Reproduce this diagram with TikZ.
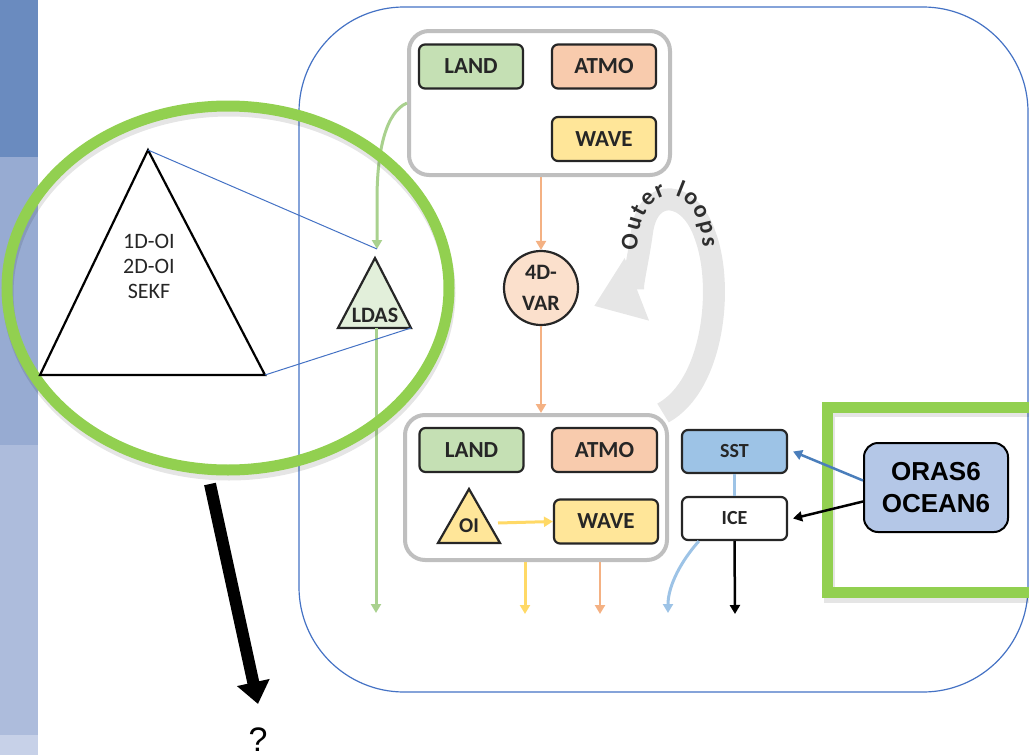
\documentclass[tikz,border=0pt]{standalone}
\usepackage{fontspec}
\setmainfont{Carlito}
\newfontfamily\arialf{Liberation Sans}
\usetikzlibrary{arrows.meta,shapes.geometric}
\definecolor{stripa}{HTML}{6A8BBF}
\definecolor{stripb}{HTML}{97ABD2}
\definecolor{stripc}{HTML}{ADBCDC}
\definecolor{stripd}{HTML}{C7D1E8}
\definecolor{frameblue}{HTML}{4472C4}
\definecolor{hlgreen}{HTML}{92D050}
\definecolor{landc}{HTML}{C5E0B4}
\definecolor{atmoc}{HTML}{F8CBAD}
\definecolor{wavec}{HTML}{FFE699}
\definecolor{sstc}{HTML}{9DC3E6}
\definecolor{varc}{HTML}{FBE0CC}
\definecolor{orasc}{HTML}{B4C7E7}
\definecolor{ldasc}{HTML}{E2EFDA}
\definecolor{darkc}{HTML}{262626}
\definecolor{grayline}{HTML}{BFBFBF}
\definecolor{loopgray}{HTML}{E6E6E6}
\definecolor{looptext}{HTML}{2E2E2E}
\definecolor{orangearr}{HTML}{F4B183}
\definecolor{yellowarr}{HTML}{FFD966}
\definecolor{greenarr}{HTML}{A9D18E}
\definecolor{lbluearr}{HTML}{9DC3E6}
\definecolor{steelarr}{HTML}{4A7EBB}
\begin{document}
\begin{tikzpicture}[x=1pt,y=-1pt,
  gbox/.style={draw=grayline, line width=4pt, rounded corners=20pt, fill=white, inner sep=0pt},
  cbox/.style={draw=darkc, line width=2.2pt, rounded corners=6pt, minimum width=104pt, minimum height=44pt, inner sep=0pt, text=darkc, font=\bfseries\fontsize{23}{23}\selectfont},
  tip/.style={-{Triangle[width=10pt,length=9pt]}},
  oarrow/.style={tip, draw=orangearr, line width=2.5pt},
  yarrow/.style={tip, draw=yellowarr, line width=3pt},
  garrow/.style={tip, draw=greenarr, line width=3pt},
  barrow/.style={tip, draw=lbluearr, line width=3pt},
  karrow/.style={tip, draw=black, line width=2.5pt},
  callout/.style={draw=frameblue, line width=1pt},
  ring/.style={draw=hlgreen, line width=11pt},
  ringshadow/.style={draw=black, opacity=0.10, line width=11pt},
  loopchar/.style={inner sep=0pt, text height=11pt, text depth=0pt, anchor=center, text=looptext, font=\bfseries\fontsize{24}{24}\selectfont}
]
\useasboundingbox (0,0) rectangle (1029,755);
% left strip
\fill[stripa] (0,0) rectangle (38,157);
\fill[stripb] (0,157) rectangle (38,445);
\fill[stripc] (0,445) rectangle (38,735);
\fill[stripd] (0,735) rectangle (38,755);
% big frame
\draw[frameblue, line width=1.2pt, rounded corners=105pt] (299,7) rectangle (1028,692);
% outer loops band
\draw[draw=loopgray, line width=22pt, -{Triangle[width=64pt,length=46pt]}]
  (663,413) .. controls (714,385) and (724,285) .. (705,235)
  .. controls (690,190) and (648,186) .. (642,232)
  .. controls (638,262) and (630,292) .. (594,306);
% Outer loops text, letter by letter along the arc
\node[loopchar, rotate=86.6] (lc1) at (632.2,241.9) {O};
\node[loopchar, rotate=73.8] (lc2) at (635.2,224.2) {u};
\node[loopchar, rotate=61.5] (lc3) at (640.5,211.0) {t};
\node[loopchar, rotate=45.5] (lc4) at (648.7,199.7) {e};
\node[loopchar, rotate=22.0] (lc5) at (660.1,192.0) {r};
\node[loopchar, rotate=-21.7] (lc6) at (679.8,191.9) {l};
\node[loopchar, rotate=-43.8] (lc7) at (690.5,199.0) {o};
\node[loopchar, rotate=-62.8] (lc8) at (700.1,212.1) {o};
\node[loopchar, rotate=-76.5] (lc9) at (705.7,227.6) {p};
\node[loopchar, rotate=-86.9] (lc10) at (707.9,242.3) {s};
% gray boxes
\node[gbox, minimum width=261pt, minimum height=144pt] (top) at (539.5,103) {};
\node[gbox, minimum width=262pt, minimum height=145pt] (bot) at (536,487.5) {};
% top boxes
\node[cbox, fill=landc] (tland) at (471,66.5) {LAND};
\node[cbox, fill=atmoc] (tatmo) at (604,66.5) {ATMO};
\node[cbox, fill=wavec] (twave) at (604,139) {WAVE};
% bottom boxes
\node[cbox, fill=landc] (bland) at (471.5,450) {LAND};
\node[cbox, fill=atmoc, minimum width=105pt] (batmo) at (604.5,450) {ATMO};
\node[cbox, fill=wavec] (bwave) at (606,521.5) {WAVE};
\node[cbox, fill=sstc, minimum width=105pt, minimum height=43pt, font=\bfseries\fontsize{20}{20}\selectfont] (sst) at (734.5,451.5) {SST};
\node[cbox, fill=white, minimum width=105pt, minimum height=43pt, font=\bfseries\fontsize{20}{20}\selectfont] (ice) at (734.5,518.5) {ICE};
% OI triangle
\coordinate (oiapex) at (469,489);
\coordinate (oil) at (438,543);
\coordinate (oir) at (500,543);
\draw[draw=darkc, line width=2.2pt, fill=wavec, line join=miter] (oiapex) -- (oir) -- (oil) -- cycle;
\node[text=darkc, font=\bfseries\fontsize{21}{21}\selectfont] (oi) at (469,526) {OI};
\draw[yarrow] (498,523) -- (bwave.west);
% 4D-VAR
\node[circle, draw=darkc, line width=2.2pt, fill=varc, minimum size=74pt, inner sep=0pt, align=center, text=darkc, font=\bfseries\fontsize{22}{31}\selectfont] (var) at (541,288) {4D-\\VAR};
\draw[oarrow] (var.north |- top.south) -- (var.north);
\draw[oarrow] (var.south) -- (var.south |- bot.north);
% arrows out of bottom
\coordinate (yend) at (525,614);
\coordinate (oend) at (600,614);
\coordinate (bend) at (668,613);
\coordinate (kend) at (735,614);
\draw[yarrow] (yend |- bot.south) -- (yend);
\draw[oarrow] (oend |- bot.south) -- (oend);
\draw[draw=lbluearr, line width=3pt] (sst.south) -- (ice.north);
\draw[barrow] ([xshift=18pt]ice.south west) .. controls (682,560) and (668,585) .. (bend);
\draw[karrow] (ice.south) -- (kend);
% LDAS
\coordinate (ldasapex) at (375,258);
\coordinate (ldasl) at (338,328);
\coordinate (ldasr) at (411,328);
\coordinate (ldasin) at (377,249);
\coordinate (ldasbase) at (376,328);
\coordinate (landend) at (376,613);
\draw[garrow] (top.west) .. controls (386,112) and (377,150) .. (377,200) -- (ldasin);
\draw[draw=darkc, line width=2.2pt, fill=ldasc, line join=miter] (ldasapex) -- (ldasr) -- (ldasl) -- cycle;
\node[text=darkc, font=\bfseries\fontsize{22}{22}\selectfont] (ldas) at (375,315) {LDAS};
\draw[garrow] (ldasbase) -- (landend);
% green ellipse with shadow
\draw[ringshadow] (229,293) ellipse[x radius=221, y radius=182];
\draw[ring] (228,288) ellipse[x radius=221, y radius=182];
% big triangle
\coordinate (bigapex) at (148,150);
\coordinate (bigl) at (40,375);
\coordinate (bigr) at (265,375);
\draw[black, line width=2.2pt, line join=miter] (bigapex) -- (bigr) -- (bigl) -- cycle;
\node[align=center, text=darkc, font=\fontsize{22}{25}\selectfont] (methods) at (149,266) {1D-OI\\2D-OI\\SEKF};
\draw[callout] (bigapex) -- (ldasin);
\draw[callout] (bigr) -- (ldasr);
% green rectangle with shadow
\draw[ringshadow] (1045,411) -- (829,411) -- (829,597) -- (1045,597);
\draw[ring] (1045,407) -- (827.5,407) -- (827.5,592) -- (1045,592);
% ORAS box
\node[draw=black, line width=2pt, rounded corners=14pt, fill=orasc, minimum width=144pt, minimum height=89pt, align=center, font=\arialf\bfseries\fontsize{26}{32}\selectfont] (oras) at (936,487.5) {ORAS6\\OCEAN6};
\draw[tip, draw=steelarr, line width=2.5pt] ([yshift=7pt]oras.west) -- ([xshift=5pt]sst.east);
\draw[karrow] ([yshift=-14pt]oras.west) -- ([xshift=5pt]ice.east);
% black thick arrow and question
\coordinate (qstart) at (210,484);
\coordinate (qend) at (258,704);
\draw[black, line width=12pt, -{Triangle[width=32pt,length=22pt]}] (qstart) -- (qend);
\node[font=\arialf\fontsize{34}{34}\selectfont] (q) at (258,740) {?};
\end{tikzpicture}
\end{document}
